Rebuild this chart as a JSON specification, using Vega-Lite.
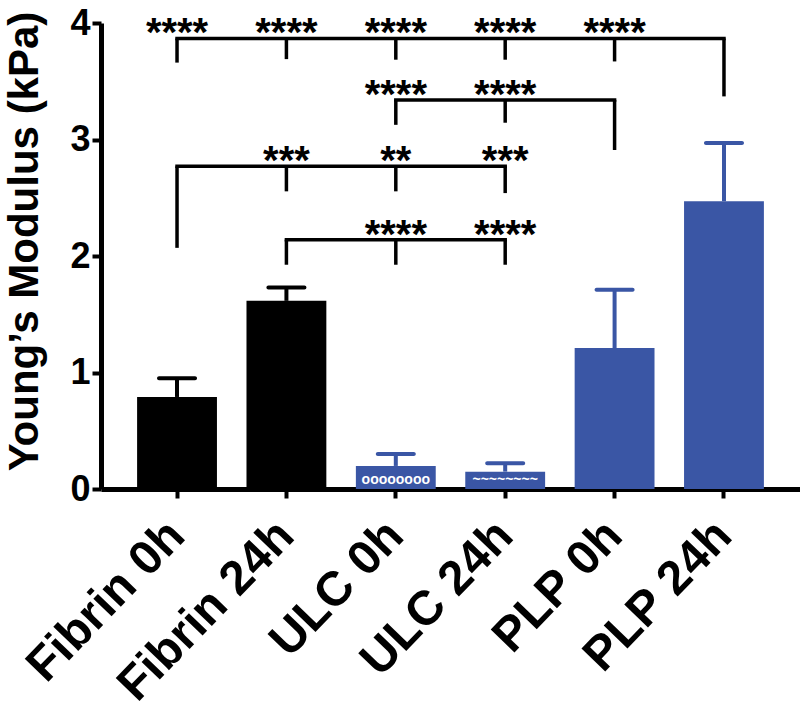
{
  "$schema": "https://vega.github.io/schema/vega-lite/v6.json",
  "width": 699,
  "height": 466,
  "autosize": "none",
  "padding": {"left": 101, "top": 23, "right": 0, "bottom": 227},
  "background": "white",
  "datasets": {
    "bars": [
      {"group": "Fibrin 0h", "material": "Fibrin", "mean": 0.79, "upper": 0.95},
      {"group": "Fibrin 24h", "material": "Fibrin", "mean": 1.615, "upper": 1.73},
      {"group": "ULC 0h", "material": "ULC", "mean": 0.198, "upper": 0.30},
      {"group": "ULC 24h", "material": "ULC", "mean": 0.149, "upper": 0.22},
      {"group": "PLP 0h", "material": "PLP", "mean": 1.21, "upper": 1.71},
      {"group": "PLP 24h", "material": "PLP", "mean": 2.47, "upper": 2.97}
    ],
    "patterns": [
      {"group": "ULC 0h", "pattern": "oooooooo"},
      {"group": "ULC 24h", "pattern": "~~~~~~~~"}
    ],
    "hlines": [
      {"from": "Fibrin 0h", "to": "PLP 24h", "y": 3.867},
      {"from": "ULC 0h", "to": "PLP 0h", "y": 3.34},
      {"from": "Fibrin 0h", "to": "ULC 24h", "y": 2.77},
      {"from": "Fibrin 24h", "to": "ULC 24h", "y": 2.14}
    ],
    "vticks": [
      {"group": "Fibrin 0h", "top": 3.867, "bottom": 3.66},
      {"group": "Fibrin 24h", "top": 3.867, "bottom": 3.69},
      {"group": "ULC 0h", "top": 3.867, "bottom": 3.685},
      {"group": "ULC 24h", "top": 3.867, "bottom": 3.685},
      {"group": "PLP 0h", "top": 3.867, "bottom": 3.67},
      {"group": "PLP 24h", "top": 3.867, "bottom": 3.37},
      {"group": "ULC 0h", "top": 3.34, "bottom": 3.126},
      {"group": "ULC 24h", "top": 3.34, "bottom": 3.144},
      {"group": "PLP 0h", "top": 3.34, "bottom": 2.91},
      {"group": "Fibrin 0h", "top": 2.77, "bottom": 2.07},
      {"group": "Fibrin 24h", "top": 2.77, "bottom": 2.555},
      {"group": "ULC 0h", "top": 2.77, "bottom": 2.555},
      {"group": "ULC 24h", "top": 2.77, "bottom": 2.54},
      {"group": "Fibrin 24h", "top": 2.14, "bottom": 1.925},
      {"group": "ULC 0h", "top": 2.14, "bottom": 1.925},
      {"group": "ULC 24h", "top": 2.14, "bottom": 1.925}
    ],
    "stars": [
      {"group": "Fibrin 0h", "y": 3.867, "label": "****"},
      {"group": "Fibrin 24h", "y": 3.867, "label": "****"},
      {"group": "ULC 0h", "y": 3.867, "label": "****"},
      {"group": "ULC 24h", "y": 3.867, "label": "****"},
      {"group": "PLP 0h", "y": 3.867, "label": "****"},
      {"group": "ULC 0h", "y": 3.34, "label": "****"},
      {"group": "ULC 24h", "y": 3.34, "label": "****"},
      {"group": "Fibrin 24h", "y": 2.77, "label": "***"},
      {"group": "ULC 0h", "y": 2.77, "label": "**"},
      {"group": "ULC 24h", "y": 2.77, "label": "***"},
      {"group": "ULC 0h", "y": 2.14, "label": "****"},
      {"group": "ULC 24h", "y": 2.14, "label": "****"}
    ]
  },
  "encoding": {
    "x": {
      "field": "group",
      "type": "nominal",
      "sort": null,
      "scale": {
        "domain": ["Fibrin 0h", "Fibrin 24h", "ULC 0h", "ULC 24h", "PLP 0h", "PLP 24h"],
        "paddingInner": 0.27,
        "paddingOuter": 0.33
      },
      "axis": {
        "title": null,
        "labelAngle": -46,
        "labelAlign": "right",
        "labelBaseline": "middle",
        "labelFontSize": 48,
        "labelFontWeight": "bold",
        "labelFont": "Liberation Sans",
        "labelColor": "#000000",
        "labelPadding": 30,
        "labelLimit": 0,
        "labelOverlap": false,
        "labelBound": false,
        "labelFlush": false,
        "domainColor": "#000000",
        "domainWidth": 5,
        "tickColor": "#000000",
        "tickWidth": 4,
        "tickSize": 9
      }
    }
  },
  "layer": [
    {
      "data": {"name": "bars"},
      "mark": {"type": "bar", "opacity": 1},
      "encoding": {
        "y": {
          "field": "mean",
          "type": "quantitative",
          "scale": {"domain": [0, 4], "nice": false},
          "axis": {
            "title": "Young’s Modulus (kPa)",
            "values": [0, 1, 2, 3, 4],
            "format": "d",
            "grid": false,
            "labelFontSize": 36,
            "labelFontWeight": "bold",
            "labelFont": "Liberation Sans",
            "labelColor": "#000000",
            "labelPadding": 2,
            "titleFontSize": 42,
            "titleFontWeight": "bold",
            "titleFont": "Liberation Sans",
            "titleColor": "#000000",
            "titlePadding": 23,
            "titleY": 218,
            "domainColor": "#000000",
            "domainWidth": 5,
            "tickColor": "#000000",
            "tickWidth": 4,
            "tickSize": 9
          }
        },
        "color": {
          "field": "material",
          "type": "nominal",
          "scale": {"domain": ["Fibrin", "ULC", "PLP"], "range": ["#000000", "#3A56A5", "#3A56A5"]},
          "legend": null
        }
      }
    },
    {
      "data": {"name": "bars"},
      "mark": {"type": "rule", "strokeWidth": 4, "opacity": 1},
      "encoding": {
        "y": {"field": "mean", "type": "quantitative"},
        "y2": {"field": "upper"},
        "color": {"field": "material", "type": "nominal", "legend": null}
      }
    },
    {
      "data": {"name": "bars"},
      "mark": {"type": "tick", "size": 40, "thickness": 4, "cornerRadius": 2, "opacity": 1},
      "encoding": {
        "y": {"field": "upper", "type": "quantitative"},
        "color": {"field": "material", "type": "nominal", "legend": null}
      }
    },
    {
      "data": {"name": "patterns"},
      "mark": {"type": "text", "color": "#ffffff", "fontSize": 14, "fontWeight": "bold", "font": "Liberation Sans", "baseline": "middle"},
      "encoding": {
        "y": {"datum": 0.075},
        "text": {"field": "pattern"}
      }
    },
    {
      "data": {"name": "hlines"},
      "mark": {"type": "rule", "strokeWidth": 3.5, "color": "#000000", "strokeCap": "square", "opacity": 1},
      "encoding": {
        "x": {"field": "from", "type": "nominal"},
        "x2": {"field": "to"},
        "y": {"field": "y", "type": "quantitative"}
      }
    },
    {
      "data": {"name": "vticks"},
      "mark": {"type": "rule", "strokeWidth": 3.5, "color": "#000000", "opacity": 1},
      "encoding": {
        "y": {"field": "top", "type": "quantitative"},
        "y2": {"field": "bottom"}
      }
    },
    {
      "data": {"name": "stars"},
      "mark": {"type": "text", "fontSize": 40, "fontWeight": "bold", "font": "Liberation Sans", "baseline": "alphabetic", "dy": 8, "color": "#000000"},
      "encoding": {
        "y": {"field": "y", "type": "quantitative"},
        "text": {"field": "label"}
      }
    }
  ],
  "config": {
    "view": {"stroke": null},
    "axis": {"grid": false}
  }
}
